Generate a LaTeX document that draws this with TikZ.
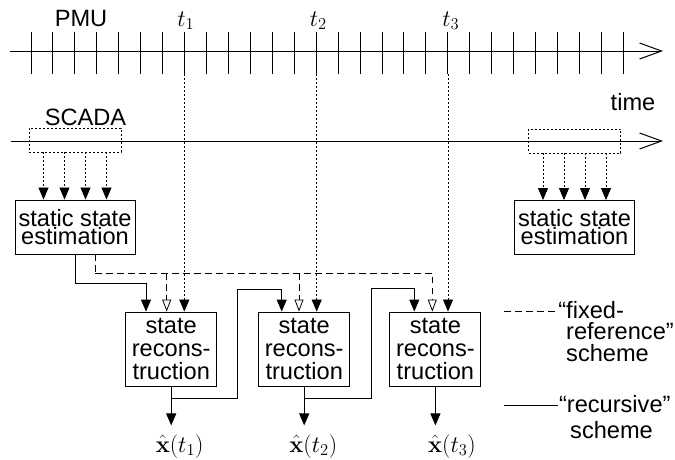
\RequirePackage{fix-cm}
\documentclass[tikz,border=0pt]{standalone}
\usepackage[no-math]{fontspec}
\setmainfont{Liberation Sans}
\usetikzlibrary{arrows.meta}

\begin{document}
\begin{tikzpicture}[x=1pt,y=-1pt,
  txt/.style={font=\fontsize{23.6}{22.7}\selectfont, inner sep=0pt},
  ssebox/.style={draw, line width=0.9pt, minimum width=120pt, minimum height=54pt,
    align=center, inner sep=0pt, font=\fontsize{23.6}{18}\selectfont},
  recbox/.style={draw, line width=0.9pt, minimum width=91pt, minimum height=74pt,
    align=center, inner sep=0pt, font=\fontsize{23.6}{22.7}\selectfont},
  scadabox/.style={draw, line width=0.8pt, dash pattern=on 2pt off 2pt,
    minimum width=92pt, minimum height=24pt, inner sep=0pt},
  axis/.style={line width=1pt, -{Straight Barb[length=22pt,width=16pt,line width=1pt]}},
  tickline/.style={line width=1pt},
  dotline/.style={line width=0.8pt, dash pattern=on 2pt off 2pt},
  fixref/.style={line width=0.9pt, dash pattern=on 6.5pt off 4.5pt},
  recur/.style={line width=1pt},
  solidtip/.style={-{Triangle[length=12pt,width=10pt]}},
  hollowtip/.style={-{Triangle[open,length=12pt,width=9pt,line width=0.8pt]}},
]
\useasboundingbox (0,0) rectangle (675,459);

% ---- PMU time axis with ticks ----
\coordinate (pmuA) at (10,51);
\coordinate (pmuB) at (663,51);
\draw[axis] (pmuA) -- (pmuB);
\foreach \k in {0,...,27}
  \draw[tickline] ({31+21.94*\k},32) -- ({31+21.94*\k},74);
\node[txt, anchor=base] (pmu) at (81,26.5) {PMU};
\node[txt, anchor=base] (lt1) at (185.8,26) {$t_1$};
\node[txt, anchor=base] (lt2) at (318.3,26) {$t_2$};
\node[txt, anchor=base] (lt3) at (450.8,26) {$t_3$};
\node[txt, anchor=base] (time) at (633,110) {time};

% ---- SCADA time axis ----
\coordinate (scA) at (11,141);
\coordinate (scB) at (663,141);
\draw[axis] (scA) -- (scB);
\node[txt, anchor=base] (scada) at (85.5,125) {SCADA};

\node[scadabox] (scL) at (75,140) {};
\node[scadabox] (scR) at (574.5,141) {};

% ---- static state estimation ----
\node[ssebox] (sseL) at (75,227) {static state\\estimation};
\node[ssebox] (sseR) at (574.5,227.5) {static state\\estimation};
\foreach \d in {-31.5,-10.5,10.5,31.5} {
  \draw[dotline, solidtip] ([xshift=\d pt]scL.south) -- ([xshift=\d pt]sseL.north);
  \draw[dotline, solidtip] ([xshift=\d pt]scR.south) -- ([xshift=\d pt]sseR.north);
}

% ---- state reconstruction blocks ----
\node[recbox] (rc1) at (171.2,349) {state\\recons-\\truction};
\node[recbox] (rc2) at (304.2,349) {state\\recons-\\truction};
\node[recbox] (rc3) at (435.4,349) {state\\recons-\\truction};

% PMU samples into the blocks
\coordinate (t1) at (184.3,74);
\coordinate (t2) at (316.7,74);
\coordinate (t3) at (448,74);
\draw[dotline, solidtip] (t1) -- (t1 |- rc1.north);
\draw[dotline, solidtip] (t2) -- (t2 |- rc2.north);
\draw[dotline, solidtip] (t3) -- (t3 |- rc3.north);

% entry points on top of the blocks
\coordinate (r1) at (146,0);
\coordinate (r2) at (281.7,0);
\coordinate (r3) at (414.3,0);
\coordinate (h1) at (166.7,0);
\coordinate (h2) at (299,0);
\coordinate (h3) at (432.3,0);

% fixed-reference scheme
\coordinate (fr) at ([xshift=20pt,yshift=-18.7pt]sseL.south);
\draw[fixref] ([xshift=20pt]sseL.south) -- (fr);
\draw[fixref, hollowtip] (fr) -| (h3 |- rc3.north);
\draw[fixref, hollowtip] (h1 |- fr) -- (h1 |- rc1.north);
\draw[fixref, hollowtip] (h2 |- fr) -- (h2 |- rc2.north);

% recursive scheme
\draw[recur, solidtip] (sseL.south) -- ++(0,28.7) -| (r1 |- rc1.north);
\draw[recur, solidtip] ([yshift=-11.7pt]rc1.south) -- ++(66.5,0) -- ++(0,-108.7)
  -| (r2 |- rc2.north);
\draw[recur, solidtip] ([yshift=-11.7pt]rc2.south) -- ++(67.1,0) -- ++(0,-110)
  -| (r3 |- rc3.north);

% outputs
\coordinate (e1) at ([yshift=-39pt]rc1.south);
\coordinate (e2) at ([yshift=-39pt]rc2.south);
\coordinate (e3) at ([yshift=-39pt]rc3.south);
\draw[recur, solidtip] (rc1.south) -- (e1);
\draw[recur, solidtip] (rc2.south) -- (e2);
\draw[recur, solidtip] (rc3.south) -- (e3);
\node[txt, anchor=base] (o1) at (179.7,452) {$\hat{\mathbf{x}}(t_1)$};
\node[txt, anchor=base] (o2) at (313.3,452) {$\hat{\mathbf{x}}(t_2)$};
\node[txt, anchor=base] (o3) at (452,452) {$\hat{\mathbf{x}}(t_3)$};

% ---- legend ----
\coordinate (lgA1) at (504.3,311);
\coordinate (lgB1) at (555,311);
\draw[fixref] (lgA1) -- (lgB1);
\node[txt, anchor=west, align=left, font=\fontsize{23.6}{21.7}\selectfont] (lg1)
  at (566,331.4) {\llap{“}fixed-\\reference”\\scheme};
\coordinate (lgA2) at (504.3,405);
\coordinate (lgB2) at (558,405);
\draw[recur] (lgA2) -- (lgB2);
\node[txt, anchor=west, align=left, font=\fontsize{23.6}{21.7}\selectfont] (lg2)
  at (566.7,417) {\llap{“}recursive”\\[4.7pt]\hspace*{3.3pt}scheme};
\end{tikzpicture}
\end{document}
